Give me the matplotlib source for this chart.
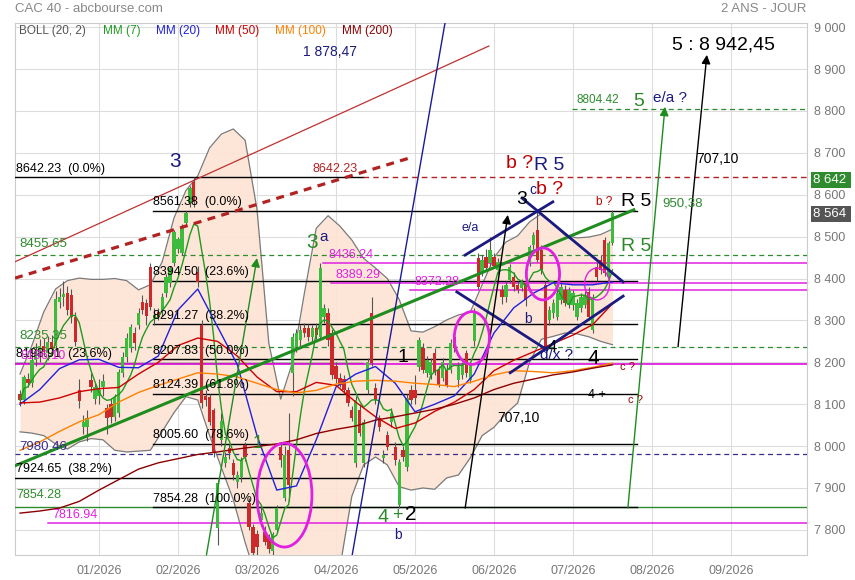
import numpy as np
import pandas as pd
import matplotlib
matplotlib.use('Agg')
import matplotlib.pyplot as plt
from matplotlib.patches import Ellipse
from matplotlib.ticker import FuncFormatter, FixedLocator

plt.rcParams['font.family'] = ['Liberation Sans', 'DejaVu Sans']

# ---------------- data (daily candles, one per trading day) ----------------
opens = [8125,8110,8160,8150,8205,8228,8240,8222,8248,8240,8345,8356,8366,8360,8308,8135,8046,8045,8158,8112,
         8120,8140,8091,8100,8070,8080,8175,8213,8235,8270,8289,8344,8342,8428,8306,8320,8325,8366,8390,8437,
         8470,8461,8532,8580,8630,8416,8290,8120,8117,8086,7805,8015,7960,7995,7960,7914,7927,8003,7864,7807,
         7790,7823,7795,7780,7750,7800,7998,7876,7990,8175,8237,8253,8282,8282,8261,8282,8261,8308,8318,8270,
         8190,8163,8160,8134,8086,7960,8086,7960,8134,8318,8139,8067,7972,8026,8057,7998,7860,7990,7950,8134,
         8134,8189,8234,8175,8170,8222,8182,8163,8182,8182,8261,8158,8170,8222,8158,8250,8450,8413,8451,8437,
         8451,8420,8373,8356,8397,8404,8385,8378,8389,8437,8480,8516,8468,8385,8301,8318,8308,8349,8373,8337,
         8337,8308,8330,8337,8368,8277,8428,8444,8492,8404,8485]
highs = [8135,8170,8175,8235,8245,8255,8258,8262,8265,8370,8378,8395,8382,8375,8320,8160,8075,8085,8175,8150,
         8160,8172,8100,8115,8125,8185,8225,8270,8292,8285,8330,8360,8350,8436,8330,8330,8365,8410,8430,8515,
         8500,8530,8562,8620,8642,8430,8300,8135,8125,8090,7920,8080,7985,8005,7970,7940,7975,8010,7875,7815,
         7800,7855,7810,7790,7795,7860,8010,8000,8079,8270,8280,8290,8295,8292,8290,8295,8436,8340,8330,8280,
         8200,8175,8170,8140,8095,8120,8100,8065,8210,8356,8150,8075,7990,8035,8090,8010,7970,8000,8125,8145,
         8170,8260,8245,8215,8210,8235,8190,8210,8195,8255,8270,8200,8200,8230,8200,8330,8462,8455,8470,8500,
         8460,8450,8385,8395,8435,8415,8395,8400,8400,8480,8510,8560,8480,8395,8335,8350,8372,8390,8385,8380,
         8372,8350,8365,8370,8380,8362,8440,8455,8500,8490,8564]
lows = [8095,8100,8140,8140,8190,8200,8215,8205,8222,8228,8330,8335,8312,8295,8240,8090,8030,8012,8130,8100,
        8100,8120,8030,8055,8060,8070,8165,8200,8225,8230,8280,8315,8290,8325,8290,8300,8310,8355,8380,8430,
        8460,8455,8525,8570,8570,8380,8090,8095,8050,7975,7765,8000,7950,7970,7920,7900,7915,7965,7800,7720,
        7740,7810,7765,7745,7740,7795,7950,7870,7870,8120,8225,8240,8260,8250,8250,8255,8255,8295,8240,8160,
        8150,8140,8125,8095,8060,7950,8025,7950,8125,8190,8100,8035,7960,7990,8045,7955,7852,7965,7940,8100,
        8100,8180,8175,8165,8160,8170,8140,8155,8140,8175,8225,8140,8160,8165,8150,8240,8375,8405,8420,8430,
        8425,8410,8340,8345,8390,8370,8365,8370,8335,8430,8470,8440,8410,8230,8290,8305,8300,8340,8335,8330,
        8325,8300,8320,8330,8300,8270,8395,8410,8405,8395,8480]
closes = [8110,8165,8150,8205,8228,8240,8225,8248,8232,8352,8356,8362,8325,8308,8248,8108,8058,8068,8141,8140,
          8135,8155,8067,8070,8117,8177,8213,8258,8284,8246,8318,8325,8310,8332,8313,8308,8356,8404,8425,8511,
          8495,8523,8557,8615,8583,8392,8103,8110,8057,7984,7912,8060,7974,7984,7930,7931,7967,7974,7807,7745,
          7760,7840,7771,7755,7790,7852,7967,7979,7907,8261,8270,8277,8270,8261,8282,8265,8425,8330,8253,8170,
          8160,8146,8134,8103,8067,8110,8031,8057,8201,8199,8110,8046,7979,7998,8079,7967,7962,7974,8115,8110,
          8115,8253,8182,8206,8201,8177,8146,8201,8146,8246,8234,8189,8194,8175,8194,8320,8380,8444,8425,8468,
          8430,8440,8356,8385,8428,8380,8373,8392,8349,8475,8504,8444,8420,8237,8325,8342,8366,8380,8342,8373,
          8366,8342,8356,8361,8308,8356,8404,8420,8413,8485,8557]

# Bollinger (20, 2) read every 3 sessions
boll_upper = [8172,8240,8320,8375,8395,8401,8398,8398,8400,8395,8373,8385,8440,8545,8610,8645,8712,8745,8757,8730,
              8565,8245,8112,8200,8365,8520,8550,8525,8492,8448,8425,8400,8350,8275,8272,8285,8301,8313,8320,8385,
              8450,8487,8502,8535,8555,8530,8503,8497,8499,8505,8518]
boll_lower = [8034,8031,8025,8005,7993,8010,8018,8015,7990,7986,7988,7990,8035,8080,8118,8110,8025,7948,7872,7770,
              7680,7600,7550,7530,7540,7580,7640,7710,7880,7955,7974,7955,7903,7895,7900,7897,7924,7931,7972,8025,
              8045,8077,8103,8200,8255,8262,8270,8268,8261,8250,8242]
# moving averages read every 5 sessions
mm20 = [8100,8135,8185,8206,8207,8188,8187,8215,8325,8375,8285,8195,8025,7895,7905,8015,8141,8172,8190,8150,
        8082,8100,8120,8172,8270,8330,8365,8390,8385,8385,8392]
mm50 = [8103,8105,8115,8130,8137,8140,8172,8200,8240,8258,8250,8215,8165,8130,8130,8152,8145,8105,8070,8042,
        8055,8083,8105,8135,8180,8205,8225,8245,8265,8290,8340]
mm100 = [7990,8010,8035,8058,8075,8105,8128,8145,8160,8175,8172,8165,8150,8135,8127,8133,8148,8155,8157,8155,
         8150,8147,8142,8155,8170,8180,8178,8175,8180,8188,8198]
mm200 = [7840,7845,7852,7868,7895,7920,7945,7960,7970,7980,7986,7993,7999,8005,8015,8030,8040,8048,8062,8070,
         8079,8088,8100,8115,8135,8150,8160,8170,8177,8186,8194]

month_labels = ['01/2026', '02/2026', '03/2026', '04/2026', '05/2026', '06/2026', '07/2026', '08/2026', '09/2026']

# Fibonacci retracements
fib1_levels = [8642.23, 8198.91, 7924.65]
fib1_pcts = ['0.0%', '23.6%', '38.2%']
fib2_levels = [8561.38, 8394.50, 8291.27, 8207.83, 8124.39, 8005.60, 7854.28]
fib2_pcts = ['0.0%', '23.6%', '38.2%', '50.0%', '61.8%', '78.6%', '100.0%']

# trend lines (session index, price)
red_thin = [(-1.27, 8440), (118.7, 8955)]
red_dotted = [(-1.27, 8401), (98.7, 8688)]
green_thick = [(-1.27, 7953), (155.4, 8564)]
navy_steep = [(84.1, 7740), (107.6, 9010)]
channel = [[(112.7, 8456), (134.9, 8583)], [(127.1, 8592), (152.7, 8392)],
           [(110.6, 8368), (133.4, 8230)], [(124.1, 8175), (152.7, 8358)]]
arrows = [((112.7, 7852), (123.5, 8552), 'black'), ((166.6, 8237), (173.9, 8934), 'black'),
          ((153.9, 7852), (163.3, 8810), '#1e8c1e'), ((47.2, 7740), (60.0, 8449), '#1e8c1e')]
ellipses = [((66.96, 7883), 13.9, 248, 2.0), ((114.4, 8258), 8.9, 126, 2.0),
            ((132.4, 8411), 8.4, 124, 2.0), ((146.1, 8387), 6.3, 76, 1.0)]

# ---------------- figure ----------------
W, H = 855, 580
fig = plt.figure(figsize=(W / 100, H / 100), dpi=100)
ax = fig.add_axes([15 / W, 25 / H, 792 / W, 532 / H])
XL, XR = -1.27, 199.25
ax.set_xlim(XL, XR)
ax.set_ylim(7740, 9010)

ax.set_axisbelow(True)
ax.grid(True, color='#dddddd', lw=0.8, zorder=0)
for s in ax.spines.values():
    s.set_color('#cccccc')
    s.set_linewidth(0.8)

ax.xaxis.set_major_locator(FixedLocator([20 * (k + 1) for k in range(len(month_labels))]))
ax.set_xticklabels(month_labels)
ax.yaxis.tick_right()
ax.yaxis.set_major_locator(FixedLocator(np.arange(7800, 9001, 100)))
ax.yaxis.set_major_formatter(FuncFormatter(lambda v, p: f"{int(v):,}".replace(',', ' ')))
ax.tick_params(axis='both', length=0, labelcolor='#777777', labelsize=9)
ax.tick_params(axis='x', pad=7)
ax.tick_params(axis='y', pad=5)

n = len(closes)
xi = np.arange(n)
xb = np.arange(0, n, 3)[:len(boll_upper)]
xm = np.arange(0, n, 5)[:len(mm20)]

# Bollinger band
ax.fill_between(xb, boll_lower, boll_upper, color='#fde4d4', alpha=0.92, zorder=1, lw=0)
ax.plot(xb, boll_upper, color='#7a7a7a', lw=0.9, zorder=2)
ax.plot(xb, boll_lower, color='#7a7a7a', lw=0.9, zorder=2)

# horizontal lines
ax.plot([XL, 86.8], [fib1_levels[0]] * 2, color='black', lw=1, zorder=3)
ax.plot([86.8, XR], [fib1_levels[0]] * 2, color='#b22222', lw=1, ls=(0, (4, 3)), zorder=3)
for lv in fib1_levels[1:]:
    ax.plot([XL, 86.8], [lv, lv], color='black', lw=1, zorder=3)
for lv in fib2_levels:
    ax.plot([33.7, 156.2], [lv, lv], color='black', lw=1, zorder=3)
for lv in [8455.65, 8235.35]:
    ax.axhline(lv, color='#2e8b2e', lw=0.9, ls=(0, (4, 3)), zorder=3)
ax.axhline(7980.46, color='#3a2a8a', lw=0.9, ls=(0, (4, 3)), zorder=3)
ax.axhline(7854.28, color='#2e8b2e', lw=1, zorder=2.9)
ax.plot([139.7, XR], [8804.42] * 2, color='#2e8b2e', lw=0.9, ls=(0, (4, 3)), zorder=3)
mag = '#e020e0'
ax.axhline(8196.1, color=mag, lw=1.3, zorder=3)
ax.plot([7.1, XR], [7816.94] * 2, color=mag, lw=1.1, zorder=3)
ax.plot([76.7, XR], [8436.24] * 2, color=mag, lw=1.1, zorder=3)
ax.plot([78.7, XR], [8389.29] * 2, color=mag, lw=1.1, zorder=3)
ax.plot([98.7, XR], [8372.28] * 2, color=mag, lw=1.1, zorder=3)

# candles
o = np.array(opens); c = np.array(closes); hi = np.array(highs); lo = np.array(lows)
up = c >= o
ax.vlines(xi, lo, hi, color='#555555', lw=0.8, zorder=4)
ax.bar(xi, np.maximum(np.abs(c - o), 2), bottom=np.minimum(o, c), width=0.85,
       color=np.where(up, '#3dbb3d', '#cc2a2a'), zorder=5, lw=0)

# moving averages
mm7 = pd.Series(closes).rolling(7, min_periods=1).mean()
ax.plot(xi, mm7, color='#1f9a1f', lw=1, zorder=6)
ax.plot(xm, mm20, color='#2020dd', lw=1, zorder=6)
ax.plot(xm, mm50, color='#cc0000', lw=1, zorder=6)
ax.plot(xm, mm100, color='#ff8000', lw=1, zorder=6)
ax.plot(xm, mm200, color='#8b0000', lw=1, zorder=6)

# trend lines
def seg(pts, **kw):
    ax.plot([pts[0][0], pts[1][0]], [pts[0][1], pts[1][1]], **kw)

seg(red_thin, color='#c03030', lw=0.9, zorder=7)
seg(red_dotted, color='#b22222', lw=2.3, ls=(0, (2.5, 2)), zorder=7)
seg(green_thick, color='#1e8c1e', lw=2.2, zorder=7)
seg(navy_steep, color='#1a1a99', lw=1, zorder=7)
for ch in channel:
    seg(ch, color='#1a1a80', lw=2, zorder=7)
for start, end, col in arrows:
    ax.annotate('', xy=end, xytext=start,
                arrowprops=dict(arrowstyle='-|>', color=col, lw=1, mutation_scale=13,
                                shrinkA=0, shrinkB=0), zorder=8)
for (cx, cy), w, h, lw in ellipses:
    ax.add_patch(Ellipse((cx, cy), w, h, fill=False, ec=mag, lw=lw, zorder=8))

# line labels
def lab(x, y, s, col, size=9, dy=6):
    ax.text(x, y + dy, s, color=col, fontsize=size, ha='left', va='bottom', zorder=9)

for lv, pc in zip(fib1_levels, fib1_pcts):
    lab(-1.0, lv, f"{lv:.2f}  ({pc})", 'black')
for lv, pc in zip(fib2_levels, fib2_pcts):
    lab(33.7, lv, f"{lv:.2f}  ({pc})", 'black')
lab(-0.2, 8455.65, '8455.65', '#2e8b2e', 9.5, 12)
lab(-0.2, 8235.35, '8235.35', '#2e8b2e', 9.5, 12)
lab(-0.2, 7980.46, '7980.46', '#3a2a8a', 9.5, 4)
lab(-1.0, 7854.28, '7854.28', '#2e8b2e', 9, 14)
lab(8.1, 7816.94, '7816.94', mag, 9, 5)
lab(0.0, 8196.1, '8196.10', mag, 9, 5)
lab(78.0, 8436.24, '8436.24', mag, 9, 5)
lab(80.0, 8389.29, '8389.29', mag, 9, 5)
lab(100.0, 8372.28, '8372.28', mag, 9, 5)
lab(141.0, 8804.42, '8804.42', '#2e8b2e', 8.5, 8)
lab(74.0, 8642.23, '8642.23', '#b22222', 9, 6)
ax.text(35.4, 7728, '950,38', color='#2e8b2e', fontsize=9.5, ha='center', va='center', clip_on=True, zorder=9)

# annotations in figure pixels
def ft(px, py, s, col, size, ha='center', **kw):
    fig.text(px / W, 1 - py / H, s, color=col, fontsize=size, ha=ha, va='center', **kw)

navy = '#1a1a80'; green = '#2a8a2a'; red = '#c00000'
ft(15, 9, 'CAC 40 - abcbourse.com', '#888888', 9.5, ha='left')
ft(806, 9, '2 ANS - JOUR', '#888888', 9.5, ha='right')
legend = [('BOLL (20, 2)', '#555555', 19), ('MM (7)', '#1f9a1f', 103), ('MM (20)', '#2020dd', 156),
          ('MM (50)', '#cc0000', 215), ('MM (100)', '#ff8000', 275), ('MM (200)', '#8b0000', 342)]
for s, col, px in legend:
    ft(px, 31, s, col, 8.5, ha='left')
ft(330, 52, '1 878,47', navy, 10)
ft(175, 161, '3', navy, 15)
ft(312, 243, '3', green, 15); ft(324, 237, 'a', navy, 11)
ft(258, 443, '1', green, 13)
ft(403, 358, '1', 'black', 14)
ft(383, 517, '4', green, 14); ft(397, 515, '+', green, 13); ft(411, 514, '2', 'black', 15)
ft(398, 535, 'b', navy, 10)
ft(470, 228, 'e/a', navy, 9)
ft(528, 319, 'b', navy, 10)
ft(522, 199, '3', 'black', 14); ft(533, 190, 'c', navy, 10); ft(550, 190, 'b ?', red, 14)
ft(520, 163, 'b ?', red, 14); ft(549, 165, 'R 5', navy, 14)
ft(604, 202, 'b ?', red, 8.5)
ft(636, 202, 'R 5', 'black', 14)
ft(636, 246, 'R 5', green, 14)
ft(683, 203, '950,38', green, 9.5)
ft(717, 159, '707,10', 'black', 10)
ft(723, 45, '5 : 8 942,45', 'black', 14)
ft(639, 102, '5', green, 14); ft(670, 98, 'e/a ?', navy, 11)
ft(552, 347, '4', 'black', 12); ft(557, 355, 'd/x ?', navy, 11)
ft(593, 358, '4', 'black', 15)
ft(597, 395, '4 +', 'black', 9)
ft(627, 367, 'c ?', '#a00000', 8); ft(635, 400, 'c ?', '#a00000', 8)
ft(518, 418, '707,10', 'black', 10)

# last value boxes on the price axis
ft(813, 180, '8 642 ', 'white', 9.5, ha='left',
   bbox=dict(boxstyle='square,pad=0.12', fc='#2e8b2e', ec='none'))
ft(813, 214, '8 564 ', 'white', 9.5, ha='left',
   bbox=dict(boxstyle='square,pad=0.12', fc='#555555', ec='none'))

fig.savefig('out.png', dpi=100)
